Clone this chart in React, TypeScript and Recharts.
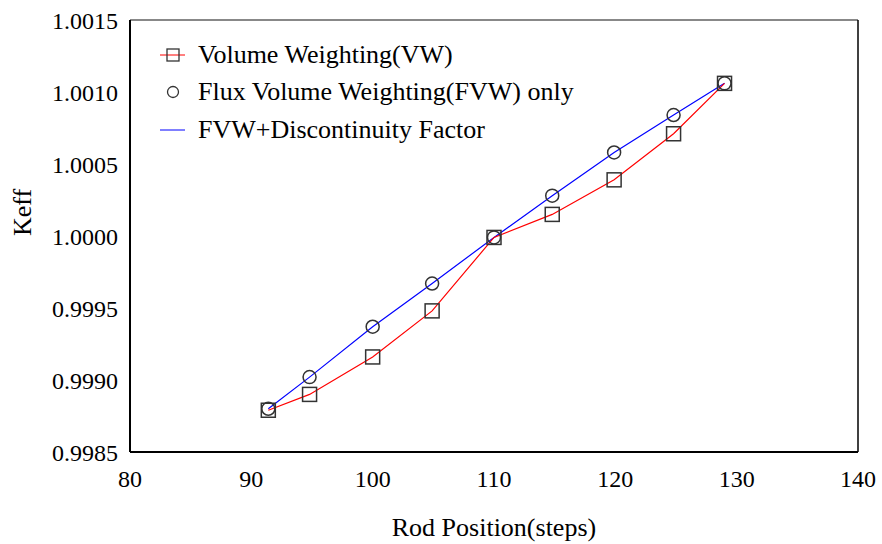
import { Line, LineChart, ReferenceLine, XAxis, YAxis } from 'recharts';

const rodPositions = [91.4, 94.8, 100, 104.9, 110, 114.8, 119.9, 124.8, 129];
const vwKeff = [0.99879, 0.99890, 0.99916, 0.99948, 0.99999, 1.00015, 1.00039, 1.00071, 1.00106];
const fvwKeff = [0.99880, 0.99902, 0.99937, 0.99967, 0.99999, 1.00028, 1.00058, 1.00084, 1.00106];
const fvwDfKeff = [0.99880, 0.99902, 0.99937, 0.99967, 0.99999, 1.00028, 1.00058, 1.00084, 1.00106];

const xTicks = [80, 90, 100, 110, 120, 130, 140];
const yTicks = [0.9985, 0.999, 0.9995, 1.0, 1.0005, 1.001, 1.0015];

const legendLabels = ['Volume Weighting(VW)', 'Flux Volume Weighting(FVW) only', 'FVW+Discontinuity Factor'];

const data = rodPositions.map((pos, i) => ({
  pos,
  vw: vwKeff[i],
  fvw: fvwKeff[i],
  fvwDf: fvwDfKeff[i],
}));

const FONT = '"Liberation Serif", "Times New Roman", serif';
const MARKER = '#333';

function SquareDot(props: any) {
  const { cx, cy } = props;
  if (cx == null || cy == null) return null;
  return <rect x={cx - 7} y={cy - 7} width={14} height={14} fill="none" stroke={MARKER} strokeWidth={1.5} />;
}

function CircleDot(props: any) {
  const { cx, cy } = props;
  if (cx == null || cy == null) return null;
  return <circle cx={cx} cy={cy} r={6.5} fill="none" stroke={MARKER} strokeWidth={1.5} />;
}

function LegendIcon({ kind }: { kind: number }) {
  return (
    <svg width={30} height={20} style={{ marginRight: 10, flexShrink: 0 }}>
      {kind === 0 && (
        <>
          <line x1={2} x2={27} y1={10} y2={10} stroke="#ff0000" strokeWidth={1} />
          <rect x={9} y={4} width={12} height={12} fill="none" stroke={MARKER} strokeWidth={1.3} />
        </>
      )}
      {kind === 1 && <circle cx={15} cy={10} r={5.5} fill="none" stroke={MARKER} strokeWidth={1.3} />}
      {kind === 2 && <line x1={2} x2={27} y1={10} y2={10} stroke="#0000ff" strokeWidth={1} />}
    </svg>
  );
}

export default function App() {
  return (
    <div style={{ position: 'absolute', left: 0, top: 0, width: 882, height: 544, background: '#fff' }}>
      <LineChart
        width={882}
        height={544}
        data={data}
        margin={{ top: 20, right: 24, bottom: 0, left: 0 }}
      >
        <XAxis
          dataKey="pos"
          type="number"
          domain={[80, 140]}
          ticks={xTicks}
          tickLine={false}
          tickSize={0}
          tickMargin={18}
          axisLine={{ stroke: '#000', strokeWidth: 2 }}
          tick={{ fill: '#000', fontSize: 24, fontFamily: FONT }}
          height={92}
          label={{
            value: 'Rod Position(steps)',
            position: 'insideBottom',
            offset: 8,
            fill: '#000',
            fontSize: 26,
            fontFamily: FONT,
          }}
        />
        <YAxis
          type="number"
          domain={[0.9985, 1.0015]}
          ticks={yTicks}
          tickFormatter={(v: number) => v.toFixed(4)}
          tickLine={false}
          tickSize={0}
          tickMargin={12}
          axisLine={{ stroke: '#000', strokeWidth: 2 }}
          tick={{ fill: '#000', fontSize: 24, fontFamily: FONT }}
          width={130}
          allowDataOverflow
          label={{
            value: 'Keff',
            angle: -90,
            position: 'insideLeft',
            offset: 22,
            fill: '#000',
            fontSize: 26,
            fontFamily: FONT,
          }}
        />
        <ReferenceLine y={1.0015} stroke="#888" strokeWidth={2} />
        <ReferenceLine x={140} stroke="#000" strokeWidth={1.5} />
        <Line dataKey="fvwDf" stroke="#0000ff" strokeWidth={1.2} dot={false} isAnimationActive={false} />
        <Line dataKey="vw" stroke="#ff0000" strokeWidth={1.2} dot={<SquareDot />} activeDot={false} isAnimationActive={false} />
        <Line dataKey="fvw" stroke="none" dot={<CircleDot />} activeDot={false} isAnimationActive={false} />
      </LineChart>
      <div style={{ position: 'absolute', left: 158, top: 36, fontFamily: FONT, fontSize: 26, color: '#000' }}>
        {legendLabels.map((label, i) => (
          <div key={label} style={{ display: 'flex', alignItems: 'center', height: 37.5, whiteSpace: 'nowrap' }}>
            <LegendIcon kind={i} />
            <span>{label}</span>
          </div>
        ))}
      </div>
    </div>
  );
}
